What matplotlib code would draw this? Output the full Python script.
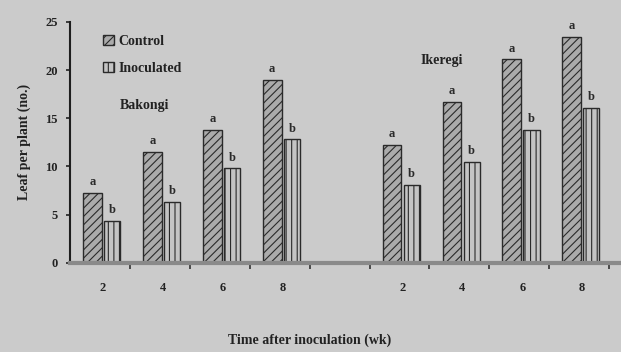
import numpy as np
import matplotlib.pyplot as plt

plt.rcParams['font.family'] = ['Liberation Serif', 'DejaVu Serif']
plt.rcParams['font.weight'] = 'bold'
plt.rcParams['axes.labelweight'] = 'bold'
plt.rcParams['hatch.linewidth'] = 0.8

weeks = ['2', '4', '6', '8']
cultivars = ['Bakongi', 'Ikeregi']
control = [7.3, 11.5, 13.8, 19.0, 12.2, 16.7, 21.1, 23.4]
inoculated = [4.4, 6.3, 9.8, 12.8, 8.1, 10.5, 13.8, 16.1]
letters_control = ['a'] * 8
letters_inoc = ['b'] * 8

fig = plt.figure(figsize=(6.21, 3.52), dpi=100, facecolor='#cbcbcb')
ax = fig.add_axes([0.113, 0.253, 0.887, 0.685])
ax.set_facecolor('none')

# groups of 4 weeks, one empty slot between the two cultivars
idx = np.arange(len(control))
centers = idx + 0.55 + (idx >= 4)

b1 = ax.bar(centers - 0.33, control, width=0.31, align='edge', color='#ababab',
            edgecolor='#2a2a2a', hatch='////', linewidth=1.0, label='Control')
b2 = ax.bar(centers + 0.02, inoculated, width=0.27, align='edge', color='#c4c4c4',
            edgecolor='#2a2a2a', hatch='|||', linewidth=1.0, label='Inoculated')

for r, t in zip(b1, letters_control):
    ax.text(r.get_x() + r.get_width() / 2, r.get_height() + 0.5, t,
            ha='center', va='bottom', fontsize=9, color='#2a2a2a')
for r, t in zip(b2, letters_inoc):
    ax.text(r.get_x() + r.get_width() / 2, r.get_height() + 0.5, t,
            ha='center', va='bottom', fontsize=9, color='#2a2a2a')

ax.set_xlim(0, 9.2)
ax.set_ylim(0, 25)
ax.set_yticks([0, 5, 10, 15, 20, 25])
ax.set_xticks(centers)
ax.set_xticklabels(weeks * 2)
ax.set_xticks(np.arange(1, 10), minor=True)
ax.tick_params(axis='x', which='major', length=0, pad=14, labelsize=9, colors='#222222')
ax.tick_params(axis='x', which='minor', length=4, width=1.2, direction='out', color='#333333')
ax.tick_params(axis='y', length=3, width=1.2, labelsize=9, colors='#222222', pad=6)

for s in ['top', 'right']:
    ax.spines[s].set_visible(False)
ax.spines['left'].set_color('#1e1e1e')
ax.spines['left'].set_linewidth(1.5)
ax.spines['bottom'].set_color('#8a8a8a')
ax.spines['bottom'].set_linewidth(3)

ax.set_ylabel('Leaf per plant (no.)', fontsize=10, labelpad=10, color='#222222')
ax.set_xlabel('Time after inoculation (wk)', fontsize=10, color='#222222', va='center')
ax.xaxis.set_label_coords(0.435, -0.32)

ax.legend(loc='upper left', bbox_to_anchor=(0.05, 0.97), frameon=False,
          fontsize=10, handlelength=0.8, handleheight=0.8, handletextpad=0.3,
          labelspacing=1.0, borderaxespad=0, labelcolor='#222222')
ax.text(0.83, 16.3, cultivars[0], fontsize=10, color='#222222', va='center')
ax.text(5.85, 21.0, cultivars[1], fontsize=10, color='#222222', va='center')

fig.savefig('out.png', dpi=100, facecolor=fig.get_facecolor())
